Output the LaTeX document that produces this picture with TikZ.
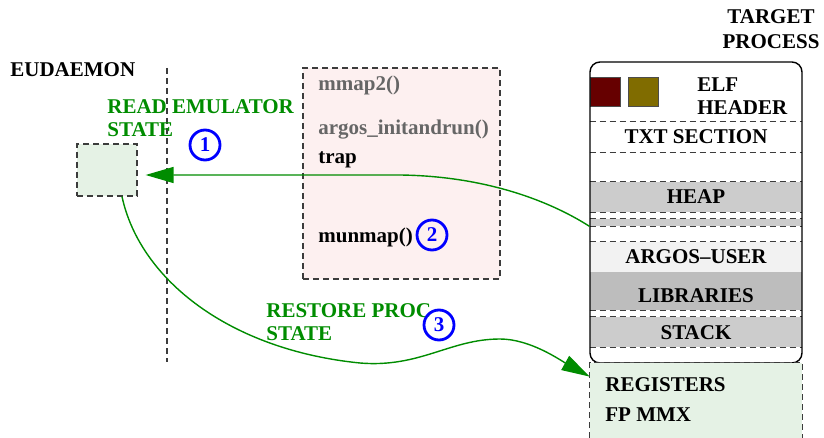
\documentclass[tikz,border=0pt]{standalone}
\usepackage{fontspec}
\setmainfont{Liberation Serif}
\usetikzlibrary{arrows.meta}

\definecolor{flowgreen}{RGB}{0,140,0}
\definecolor{pinkbg}{RGB}{253,240,240}
\definecolor{greenbg}{RGB}{229,242,229}
\definecolor{elfred}{RGB}{102,0,0}
\definecolor{elfolive}{RGB}{128,108,0}
\definecolor{dashgray}{RGB}{60,60,60}

\begin{document}
\begin{tikzpicture}[
    x=0.5pt, y=-0.5pt,
    font=\bfseries\fontsize{10.5}{11.5}\selectfont,
    % Define styles
    lbl/.style={
        anchor=west,
        inner sep=0pt,
        align=left
    },
    greenlbl/.style={
        lbl,
        text=flowgreen
    },
    sep/.style={
        draw=dashgray,
        line width=0.6pt,
        dash pattern=on 3pt off 2pt
    },
    band/.style={
        rectangle,
        inner sep=0pt,
        minimum width=106pt
    },
    numbered/.style={
        circle,
        draw=blue,
        line width=1.4pt,
        text=blue,
        minimum size=15pt,
        inner sep=0pt
    },
    flow/.style={
        draw=flowgreen,
        line width=0.7pt,
        -{Triangle[length=14pt,width=8pt]},
        flowgreen
    },
    elfsq/.style={
        rectangle,
        draw=black!70,
        line width=0.4pt,
        inner sep=0pt,
        minimum width=15pt,
        minimum height=14.5pt
    }
]

\useasboundingbox (0,0) rectangle (824,438);

% Eudaemon side
\node[lbl] (eud) at (10,70) {EUDAEMON};
\coordinate (vtop) at (167,68);
\coordinate (vbot) at (167,362);
\draw[sep] (vtop) -- (vbot);
\node[rectangle, sep, fill=greenbg, minimum width=30pt, minimum height=26pt] (emu) at (107,170) {};
\node[greenlbl] (readlbl) at (107,118) {READ EMULATOR\\STATE};

% Injected code box
\node[rectangle, sep, fill=pinkbg, minimum width=98.5pt, minimum height=105.5pt] (code) at (401.5,173.5) {};
\node[lbl, text=black!60] (mmap) at (318,85) {mmap2()};
\node[lbl, text=black!60] (initrun) at (318,130) {argos\_initandrun()};
\node[lbl] (trap) at (318,160) {trap};
\node[lbl] (munmap) at (318,237) {munmap()};

% Target process
\node[align=center, inner sep=0pt, font=\bfseries\fontsize{10.5}{12.5}\selectfont] (tgt) at (771,29) {TARGET\\PROCESS};
\node[band, minimum height=3.5pt, fill=black!20] (heapb) at (696,222.5) {};
\node[band, minimum height=15pt, fill=black!20] (heap) at (696,197) {HEAP};
\node[band, minimum height=15pt] (txt) at (696,137) {TXT SECTION};
\node[band, minimum height=15pt, fill=black!5] (argos) at (696,257) {};
\node[band, minimum height=19pt, fill=black!26] (libs) at (696,291) {};
\node[band, minimum height=15pt, fill=black!20] (stack) at (696,332) {};
\node (argostxt) at (696,257) {ARGOS--USER};
\node (libstxt) at (696,296) {LIBRARIES};
\node (stacktxt) at (696,333) {STACK};
\node[elfsq, fill=elfred] (sqa) at (605.5,91.5) {};
\node[elfsq, fill=elfolive] (sqb) at (643,91.5) {};
\node[lbl] (elf) at (697,96) {ELF\\HEADER};

% Section separators
\draw[sep] (txt.north west) -- (txt.north east);
\draw[sep] (txt.south west) -- (txt.south east);
\draw[sep] (heap.north west) -- (heap.north east);
\draw[sep] (heap.south west) -- (heap.south east);
\draw[sep] (heapb.north west) -- (heapb.north east);
\draw[sep] (heapb.south west) -- (heapb.south east);
\draw[sep] (argos.north west) -- (argos.north east);
\draw[sep] (libs.south west) -- (libs.south east);
\draw[sep] (stack.north west) -- (stack.north east);
\draw[sep] (stack.south west) -- (stack.south east);

\node[rectangle, draw, line width=0.7pt, rounded corners=5pt, minimum width=106pt, minimum height=150.5pt] (proc) at (696,212.5) {};

% Registers
\node[band, minimum height=37.5pt, fill=greenbg] (regs) at (696,400.5) {};
\draw[sep] (regs.south west) -- (regs.north west) -- (regs.north east) -- (regs.south east);
\node[lbl] (reglbl) at (605,385) {REGISTERS};
\node[lbl] (fplbl) at (605,415) {FP MMX};

% Flows
\draw[flow] (heapb.south west) .. controls (545,198) and (480,176) .. (400,175) -- ([xshift=4pt,yshift=-2.5pt]emu.east);
\draw[flow] ([xshift=7.5pt]emu.south) .. controls (140,280) and (230,350) .. (360,363)
    .. controls (420,368) and (450,339) .. (500,339)
    .. controls (530,339) and (560,360) .. ([yshift=-7pt]regs.north west);
\node[greenlbl] (restlbl) at (266,322.5) {RESTORE PROC\\STATE};

% Step numbers
\node[numbered] (n1) at (205,145) {1};
\node[numbered] (n2) at (432,235) {2};
\node[numbered] (n3) at (439,325) {3};
\end{tikzpicture}
\end{document}
